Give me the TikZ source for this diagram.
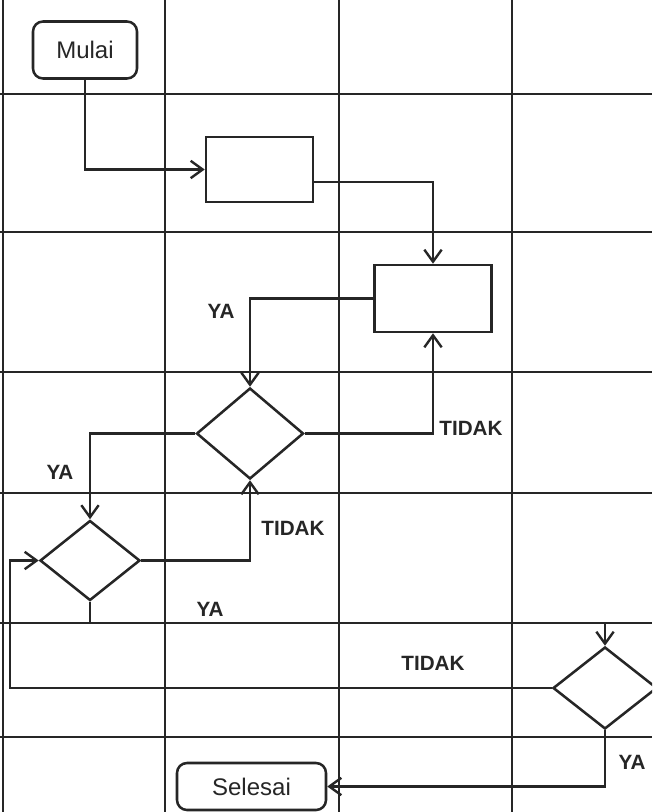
\documentclass[tikz,border=0pt]{standalone}
\usepackage{fontspec}
\setmainfont{Liberation Sans}
\usetikzlibrary{shapes.geometric,arrows.meta}
\definecolor{ink}{HTML}{262626}
\begin{document}
\begin{tikzpicture}[x=0.75pt,y=-0.75pt,
  gridline/.style={draw=ink,line width=1.7pt},
  conn/.style={draw=ink,line width=1.9pt},
  arr/.style={conn,-{Straight Barb[length=9pt,width=13pt,line width=1.8pt]}},
  term/.style={draw=ink,line width=1.9pt,rounded corners=7.5pt,fill=white,inner sep=0pt,font=\fontsize{18pt}{20pt}\selectfont,text=ink},
  proc/.style={draw=ink,line width=1.9pt,fill=white,inner sep=0pt},
  dec/.style={diamond,draw=ink,line width=1.9pt,fill=white,inner sep=0pt},
  lbl/.style={font=\bfseries\fontsize{15.5pt}{17pt}\selectfont,text=ink,inner sep=0pt}]
\clip (0,0) rectangle (652,812);
\fill[white] (0,0) rectangle (652,812);
% grid
\foreach \gx/\gn in {3/ga,165/gb,339/gc,512/gd}{\draw[gridline] (\gx,0) coordinate (\gn top) -- (\gx,812) coordinate (\gn bot);}
\foreach \gy/\gn in {94/ha,232/hb,372/hc,493/hd,623/he,737/hf}{\draw[gridline] (0,\gy) coordinate (\gn l) -- (652,\gy) coordinate (\gn r);}
% nodes
\node[term,minimum width=78pt,minimum height=42.75pt] (mulai) at (85,50) {Mulai};
\node[proc,minimum width=80.25pt,minimum height=48.75pt] (box1) at (259.5,169.5) {};
\node[proc,minimum width=87.75pt,minimum height=50.25pt] (box2) at (433,298.5) {};
\node[dec,minimum width=80.25pt,minimum height=68.25pt] (d1) at (250,433.5) {};
\node[dec,minimum width=75pt,minimum height=60pt] (d2) at (90,560.5) {};
\node[dec,minimum width=78pt,minimum height=61.5pt] (d3) at (605,688) {};
\node[term,minimum width=111.75pt,minimum height=35.25pt] (sel) at (251.5,786.5) {Selesai};
% helper coordinates
\coordinate (r1) at (330,182);
\coordinate (h623) at (0,623);
\coordinate (v10) at (10,0);
% connectors
\draw[arr] (mulai.south) |- (box1.west);
\draw[arr] (box1.east |- r1) -| (box2.north);
\draw[arr] (box2.west) -| (d1.north);
\draw[arr] (d1.east) -| (box2.south);
\draw[arr] (d1.west) -| (d2.north);
\draw[arr] (d2.east) -| (d1.south);
\draw[arr] (d2.south) -- (d2.south |- h623) -| (d3.north);
\draw[arr] (d3.west) -- (d3.west -| v10) |- (d2.west);
\draw[arr] (d3.south) |- (sel.east);
% labels
\node[lbl] (l1) at (221,311) {YA};
\node[lbl] (l2) at (60,472) {YA};
\node[lbl] (l3) at (471,428) {TIDAK};
\node[lbl] (l4) at (293,528) {TIDAK};
\node[lbl] (l5) at (210,609) {YA};
\node[lbl] (l6) at (433,663) {TIDAK};
\node[lbl] (l7) at (632,762) {YA};
\end{tikzpicture}
\end{document}
